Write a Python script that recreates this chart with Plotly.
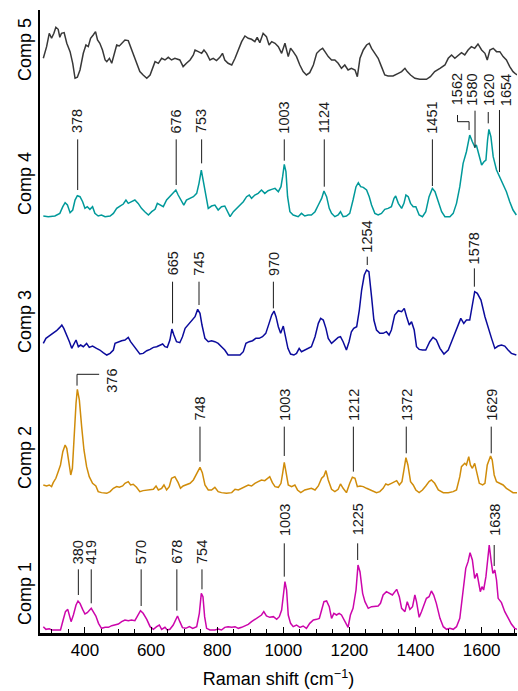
import plotly.graph_objects as go

# ---------------------------------------------------------------- data
# Raman shift (cm^-1) and intensity (a.u.) for each component spectrum
shift_comp5 = [274, 284, 292, 299, 306, 312, 319, 324, 329, 337, 345, 355, 363, 370, 377, 385, 395, 403, 410, 417,
               425, 432, 438, 445, 453, 461, 466, 474, 481, 488, 496, 504, 511, 521, 531, 538, 546, 556, 566, 576,
               587, 597, 607, 612, 622, 632, 642, 652, 662, 672, 687, 697, 707, 718, 728, 733, 743, 753, 760, 768,
               778, 788, 798, 808, 816, 823, 833, 844, 854, 864, 874, 884, 894, 904, 914, 921, 929, 939, 949, 957,
               965, 975, 985, 995, 1005, 1015, 1022, 1030, 1040, 1050, 1060, 1070, 1080, 1091, 1101, 1111, 1119,
               1126, 1136, 1146, 1156, 1166, 1176, 1186, 1196, 1206, 1217, 1224, 1232, 1242, 1252, 1260, 1267,
               1277, 1287, 1297, 1307, 1317, 1332, 1348, 1358, 1368, 1375, 1385, 1398, 1413, 1433, 1445, 1458,
               1474, 1489, 1499, 1509, 1519, 1529, 1539, 1549, 1559, 1569, 1579, 1589, 1600, 1610, 1617, 1625,
               1635, 1645, 1655, 1665, 1675, 1685, 1695, 1703, 1708]
intensity_comp5 = [63, 98, 138, 123, 138, 156, 150, 126, 138, 140, 108, 83, 48, 3, 6, 28, 78, 103, 98, 123,
                   133, 143, 118, 108, 88, 58, 53, 63, 48, 73, 103, 100, 108, 118, 116, 98, 78, 48, 23, 13,
                   3, 13, 38, 53, 48, 63, 58, 66, 58, 63, 58, 38, 48, 58, 73, 88, 83, 78, 88, 78,
                   58, 63, 56, 66, 78, 58, 48, 43, 63, 88, 113, 130, 123, 120, 113, 126, 110, 138, 128, 103,
                   113, 108, 98, 78, 108, 68, 93, 83, 68, 43, 23, 13, 20, 43, 78, 88, 93,
                   83, 68, 58, 58, 48, 33, 43, 28, 33, 28, 8, 63, 88, 103, 108, 93,
                   78, 63, 38, 13, 10, 10, 18, 23, 33, 23, 13, 3, 0, 0, 8, 23,
                   33, 43, 63, 73, 63, 73, 80, 73, 88, 98, 93, 106, 88, 78, 58, 88,
                   93, 83, 83, 68, 58, 38, 23, 16, 13]

shift_comp4 = [274, 289, 309, 324, 333, 340, 347, 355, 363, 370, 377, 385, 393, 400, 407, 415, 423, 430, 440, 450,
               461, 476, 486, 496, 506, 516, 524, 531, 541, 551, 561, 571, 581, 592, 602, 612, 619, 627, 637, 647,
               657, 667, 675, 682, 692, 699, 707, 718, 728, 738, 745, 752, 758, 766, 773, 783, 793, 803, 813, 823,
               833, 839, 849, 859, 869, 879, 889, 897, 904, 914, 924, 934, 944, 954, 965, 975, 985, 993, 998, 1003,
               1008, 1013, 1020, 1030, 1045, 1055, 1065, 1075, 1085, 1096, 1106, 1116, 1123, 1131, 1139, 1146,
               1156, 1166, 1173, 1181, 1191, 1201, 1211, 1220, 1227, 1234, 1242, 1252, 1260, 1267, 1277, 1287,
               1297, 1307, 1317, 1327, 1335, 1340, 1348, 1358, 1365, 1371, 1378, 1385, 1393, 1401, 1411, 1421,
               1431, 1441, 1451, 1459, 1469, 1479, 1489, 1504, 1514, 1524, 1534, 1544, 1554, 1564, 1572, 1579,
               1584, 1592, 1600, 1607, 1613, 1618, 1622, 1628, 1635, 1645, 1655, 1665, 1675, 1685, 1695, 1705]
intensity_comp4 = [2, 0, 2, 10, 30, 42, 35, 12, 20, 50, 63, 60, 45, 25, 30, 22, 30, 10, 2, 5,
                   0, 2, 10, 25, 32, 38, 50, 40, 45, 50, 40, 25, 15, 5, 15, 22, 40, 35, 30, 50,
                   60, 70, 80, 65, 45, 35, 50, 55, 60, 70, 100, 140, 110, 60, 25, 32, 35, 20, 30, 32,
                   10, 0, 15, 25, 35, 45, 60, 65, 55, 65, 70, 80, 70, 78, 82, 85, 75, 90, 120, 157,
                   135, 60, 15, 5, 0, 10, 2, 5, 5, 15, 35, 55, 77, 60, 25, 10,
                   0, 5, 15, 0, 2, 10, 50, 90, 102, 90, 88, 80, 60, 35, 10, 5,
                   10, 22, 25, 30, 55, 62, 40, 25, 40, 65, 60, 40, 30, 30, 5, 0,
                   15, 60, 85, 75, 45, 15, 0, 0, 10, 40, 90, 160, 195, 245, 225, 210,
                   215, 180, 155, 165, 170, 230, 262, 240, 180, 140, 118, 100, 75, 45, 20, 5]

shift_comp3 = [274, 282, 289, 296, 304, 314, 324, 330, 336, 345, 353, 360, 367, 373, 380, 387, 395, 405, 413, 423,
               435, 445, 455, 466, 476, 486, 491, 501, 511, 521, 531, 538, 546, 556, 566, 576, 587, 597, 607, 617,
               627, 635, 642, 649, 657, 663, 669, 677, 687, 695, 703, 712, 722, 733, 741, 748, 754, 763, 773, 783,
               793, 803, 813, 823, 833, 848, 869, 879, 887, 897, 907, 917, 927, 937, 947, 957, 965, 972, 978, 985,
               992, 1000, 1006, 1014, 1022, 1032, 1040, 1048, 1055, 1065, 1075, 1085, 1096, 1106, 1113, 1121,
               1129, 1136, 1146, 1156, 1166, 1173, 1181, 1191, 1199, 1206, 1213, 1222, 1230, 1237, 1245, 1252,
               1259, 1267, 1274, 1282, 1292, 1302, 1312, 1320, 1327, 1337, 1348, 1358, 1366, 1373, 1381, 1388,
               1396, 1403, 1411, 1421, 1431, 1443, 1453, 1463, 1474, 1486, 1499, 1509, 1519, 1529, 1537, 1546,
               1554, 1564, 1571, 1579, 1587, 1598, 1610, 1620, 1630, 1640, 1650, 1660, 1670, 1680, 1690, 1705]
intensity_comp3 = [37, 52, 57, 62, 67, 75, 85, 92, 82, 62, 42, 22, 37, 47, 27, 32, 27, 37, 25, 29,
                   22, 17, 9, 2, 7, 17, 37, 42, 45, 47, 55, 42, 32, 17, 5, 7, 15, 19, 25, 27,
                   32, 35, 27, 25, 47, 80, 62, 42, 39, 57, 82, 92, 102, 117, 139, 127, 92, 52, 42, 45,
                   42, 37, 27, 17, 2, 2, 2, 12, 37, 42, 45, 52, 52, 57, 67, 97, 122, 134, 117, 87,
                   67, 89, 62, 22, 5, 2, 7, 22, 12, 17, 22, 27, 57, 97, 112, 107,
                   82, 52, 37, 47, 55, 57, 42, 17, 42, 72, 82, 87, 137, 197, 242, 257,
                   252, 177, 107, 77, 67, 67, 72, 62, 77, 122, 135, 132, 142, 117, 92, 102,
                   77, 27, 19, 17, 17, 42, 55, 47, 22, 5, 17, 42, 67, 87, 112, 97,
                   107, 107, 152, 192, 187, 167, 117, 82, 52, 22, 29, 32, 29, 17, 7, 2]

shift_comp2 = [274, 284, 292, 299, 304, 312, 319, 326, 333, 340, 345, 350, 357, 362, 367, 373, 377, 383, 390, 397,
               405, 413, 423, 433, 440, 450, 466, 476, 486, 496, 504, 514, 521, 531, 538, 546, 556, 566, 576, 587,
               597, 607, 615, 622, 632, 639, 647, 655, 662, 672, 682, 689, 697, 707, 718, 728, 738, 748, 755, 763,
               773, 783, 793, 803, 813, 828, 844, 854, 864, 874, 884, 894, 904, 914, 924, 934, 944, 952, 959, 967,
               975, 985, 993, 998, 1003, 1008, 1015, 1025, 1035, 1043, 1053, 1065, 1075, 1085, 1096, 1106, 1116,
               1123, 1129, 1136, 1146, 1156, 1166, 1173, 1181, 1191, 1201, 1209, 1217, 1224, 1232, 1242, 1252,
               1262, 1272, 1282, 1292, 1302, 1310, 1317, 1327, 1335, 1343, 1351, 1359, 1365, 1371, 1377, 1385,
               1393, 1401, 1411, 1421, 1431, 1441, 1448, 1458, 1469, 1484, 1499, 1514, 1524, 1534, 1539, 1549,
               1554, 1561, 1566, 1572, 1579, 1586, 1593, 1603, 1610, 1617, 1627, 1632, 1638, 1645, 1655, 1665,
               1675, 1685, 1695, 1707]
intensity_comp2 = [25, 22, 25, 20, 32, 45, 65, 85, 125, 145, 135, 100, 55, 75, 180, 270, 312, 280, 200, 130,
                   80, 50, 30, 22, 5, 2, 0, 5, 15, 20, 18, 22, 30, 35, 25, 27, 18, 5, 8, 10,
                   10, 12, 22, 10, 15, 25, 10, 20, 45, 50, 32, 15, 22, 27, 30, 40, 58, 78, 62, 25,
                   10, 10, 18, 5, 2, 0, 2, 12, 10, 15, 20, 25, 22, 30, 35, 40, 38, 45, 50, 32,
                   20, 18, 30, 60, 93, 65, 25, 20, 25, 10, 2, 10, 12, 15, 10, 22, 45,
                   52, 68, 40, 12, 5, 12, 28, 15, 2, 30, 48, 45, 20, 22, 20, 15,
                   10, 5, 2, 5, 15, 28, 25, 30, 35, 38, 25, 35, 70, 107, 85, 35,
                   25, 10, 2, 10, 22, 35, 40, 30, 10, 2, 2, 5, 10, 50, 80, 90,
                   85, 110, 85, 75, 90, 60, 30, 25, 30, 85, 112, 100, 55, 35, 30, 25,
                   15, 8, 2, 2]

shift_comp1 = [274, 282, 292, 299, 314, 326, 334, 341, 348, 353, 358, 365, 373, 379, 385, 393, 400, 407, 413, 419,
               425, 433, 441, 450, 461, 471, 481, 491, 501, 511, 521, 531, 541, 551, 561, 568, 576, 587, 597, 607,
               617, 625, 632, 642, 649, 657, 667, 674, 680, 687, 695, 705, 716, 726, 738, 746, 752, 757, 762, 768,
               778, 793, 803, 813, 823, 833, 844, 854, 864, 874, 884, 894, 904, 914, 924, 934, 941, 949, 959, 970,
               980, 988, 995, 1000, 1005, 1010, 1015, 1022, 1030, 1040, 1050, 1060, 1070, 1080, 1091, 1101, 1109,
               1116, 1123, 1131, 1139, 1146, 1153, 1161, 1169, 1176, 1186, 1196, 1203, 1211, 1220, 1226, 1232,
               1240, 1247, 1257, 1267, 1277, 1287, 1294, 1302, 1312, 1322, 1330, 1343, 1351, 1358, 1368, 1375,
               1383, 1391, 1398, 1403, 1411, 1418, 1425, 1433, 1441, 1448, 1455, 1463, 1474, 1484, 1494, 1504,
               1514, 1524, 1534, 1544, 1552, 1559, 1565, 1572, 1579, 1586, 1591, 1596, 1601, 1606, 1613, 1618,
               1623, 1629, 1634, 1640, 1645, 1650, 1660, 1670, 1680, 1690, 1700, 1708]
intensity_comp1 = [10, 2, 4, 0, 0, 0, 30, 55, 62, 45, 25, 45, 75, 87, 80, 62, 48, 52, 60, 65,
                   55, 42, 20, 5, 8, 8, 13, 15, 18, 25, 30, 28, 30, 28, 45, 58, 50, 32, 10, 2,
                   10, 15, 2, 8, 0, 2, 15, 32, 42, 25, 7, 5, 10, 5, 10, 50, 110, 100, 40, 5,
                   0, 0, 3, 0, 8, 10, 8, 10, 5, 8, 12, 17, 25, 32, 40, 45, 55, 42, 38, 40,
                   32, 40, 60, 100, 145, 120, 45, 20, 10, 15, 8, 12, 5, 20, 30, 32, 35,
                   60, 85, 87, 70, 35, 50, 45, 50, 45, 25, 8, 45, 65, 120, 195, 175,
                   110, 85, 65, 70, 72, 72, 80, 105, 115, 110, 105, 122, 100, 65, 55, 85,
                   62, 70, 105, 85, 38, 55, 75, 95, 100, 117, 105, 80, 35, 10, 2, 5,
                   2, 10, 35, 110, 185, 205, 232, 210, 155, 170, 140, 115, 130, 120, 160, 220,
                   255, 205, 170, 180, 150, 95, 82, 55, 35, 18, 5, 2]

# annotated band positions (cm^-1)
peaks_comp4 = [378, 676, 753, 1003, 1124, 1451, 1562, 1580, 1620, 1654]
peaks_comp3 = [665, 745, 970, 1254, 1578]
peaks_comp2 = [376, 748, 1003, 1212, 1372, 1629]
peaks_comp1 = [380, 419, 570, 678, 754, 1003, 1225, 1638]

# ---------------------------------------------------------------- layout geometry
W, H = 518, 691
PLOT_LEFT, PLOT_RIGHT, PLOT_TOP, PLOT_BOTTOM = 40, 517, 10, 633
UNITS_PER_PX = 3.0          # intensity units per screen pixel
X_RANGE = [264, 1707]

FONT = "Liberation Sans, Arial, Helvetica, sans-serif"
INK = "#1a1a1a"

panels = [
    # name, x, y, colour, baseline pixel row, label centre pixel row
    ("Comp 5", shift_comp5, intensity_comp5, "#383838", 79.3, 50),
    ("Comp 4", shift_comp4, intensity_comp4, "#00999a", 216.7, 184),
    ("Comp 3", shift_comp3, intensity_comp3, "#0b0b9c", 355.7, 322),
    ("Comp 2", shift_comp2, intensity_comp2, "#d08c0a", 493.3, 458),
    ("Comp 1", shift_comp1, intensity_comp1, "#cc06ab", 630.0, 594),
]

# leader layout per annotated band: (line bottom, line top, text bottom[, text x])
leaders = {
    "Comp 4": [(80, 232, 247), (95, 232, 247), (160, 232, 247), (168, 232, 247),
               (90, 232, 247), (92, 232, 247), None, (206, 318, 330, 1571),
               (280, 314, 330, 1620), (134, 320, 330, 1672)],
    "Comp 3": [(97, 222, 237), (152, 222, 237), (142, 222, 237),
               (272, 297, 307), (207, 262, 272)],
    "Comp 2": [None, (95, 200, 215), (112, 200, 215), (65, 200, 215),
               (120, 200, 215), (120, 200, 215)],
    "Comp 1": [(105, 182, 195), (80, 182, 195), (72, 182, 195), (58, 182, 195),
               (122, 182, 195), (160, 260, 280), (210, 260, 280), (192, 255, 280)],
}
# bent leaders for crowded bands: polyline (x, y) and text anchor
bent = {
    ("Comp 4", 1562): ([(1562, 260), (1562, 285), (1527, 285), (1527, 305)], (1524, 330)),
    ("Comp 2", 376): ([(376, 323), (376, 357), (443, 357)], (483, 300)),
}
peak_lists = {"Comp 4": peaks_comp4, "Comp 3": peaks_comp3,
              "Comp 2": peaks_comp2, "Comp 1": peaks_comp1}


def paper_y(px):
    return (PLOT_BOTTOM - px) / (PLOT_BOTTOM - PLOT_TOP)


def paper_x(px):
    return (px - PLOT_LEFT) / (PLOT_RIGHT - PLOT_LEFT)


fig = go.Figure()
shapes, annotations = [], []
layout_axes = {}

for i, (name, xs, ys, colour, base_px, label_px) in enumerate(panels):
    ax_id = "" if i == 0 else str(i + 1)
    yref = "y" + ax_id
    fig.add_trace(go.Scatter(x=xs, y=ys, mode="lines", name=name, yaxis=yref,
                             line=dict(color=colour, width=1.5), showlegend=False,
                             hoverinfo="skip"))
    rng = [-(PLOT_BOTTOM - base_px) * UNITS_PER_PX, (base_px - PLOT_TOP) * UNITS_PER_PX]
    axis = dict(range=rng, domain=[0, 1], showgrid=False, zeroline=False,
                showticklabels=False, ticks="", fixedrange=True)
    if i == 0:
        axis.update(showline=True, linewidth=2, linecolor="black")
    else:
        axis.update(overlaying="y", visible=False)
    layout_axes["yaxis" + ax_id] = axis

    annotations.append(dict(text=name, xref="paper", yref="paper",
                            x=paper_x(25), y=paper_y(label_px), textangle=-90,
                            xanchor="center", yanchor="middle", showarrow=False,
                            font=dict(family=FONT, size=18, color="black")))

    if name not in peak_lists:
        continue
    for peak, spec in zip(peak_lists[name], leaders[name]):
        if spec is None:
            pts, (tx, ty) = bent[(name, peak)]
            path = "M " + " L ".join(f"{px},{py}" for px, py in pts)
            shapes.append(dict(type="path", path=path, xref="x", yref=yref,
                               line=dict(color=INK, width=1)))
        else:
            lo, hi, ty = spec[:3]
            tx = spec[3] if len(spec) > 3 else peak
            shapes.append(dict(type="line", xref="x", yref=yref, x0=peak, x1=peak,
                               y0=lo, y1=hi, line=dict(color=INK, width=1)))
        annotations.append(dict(text=str(peak), xref="x", yref=yref, x=tx, y=ty,
                                textangle=-90, xanchor="center", yanchor="bottom",
                                showarrow=False, borderpad=0,
                                font=dict(family=FONT, size=14.5, color=INK)))

fig.update_layout(
    width=W, height=H,
    margin=dict(l=PLOT_LEFT, r=W - PLOT_RIGHT, t=PLOT_TOP, b=H - PLOT_BOTTOM),
    paper_bgcolor="white", plot_bgcolor="white",
    font=dict(family=FONT, color="black"),
    xaxis=dict(range=X_RANGE, showgrid=False, zeroline=False, showline=True,
               linewidth=2.5, linecolor="black", ticks="inside", ticklen=6,
               tickwidth=1.3, tickcolor="black", dtick=200, tick0=0,
               minor=dict(dtick=50, ticks="inside", ticklen=4, tickwidth=1.3,
                          tickcolor="black"),
               tickfont=dict(family=FONT, size=17, color="black"),
               title=dict(text="Raman shift (cm<sup>\u22121</sup>)", standoff=14,
                          font=dict(family=FONT, size=18, color="black")),
               fixedrange=True),
    shapes=shapes, annotations=annotations,
    **layout_axes,
)

fig.write_html("out.html")
